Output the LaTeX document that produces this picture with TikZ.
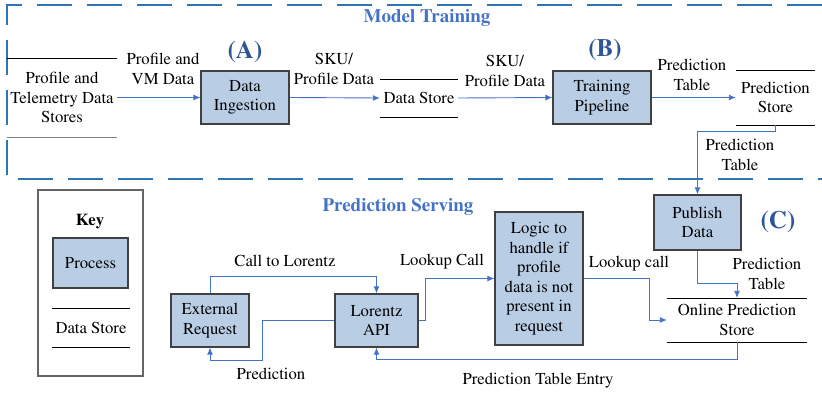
\documentclass[tikz,border=0pt]{standalone}
\usepackage[T1]{fontenc}
\usepackage{times}
\usetikzlibrary{arrows.meta,calc}
\definecolor{procfill}{HTML}{B9CDE5}
\definecolor{procline}{HTML}{404040}
\definecolor{flowblue}{HTML}{4472C4}
\definecolor{dashblue}{HTML}{2E75B6}
\definecolor{tagblue}{HTML}{2F5597}
\tikzset{proc/.style={draw=procline, fill=procfill, line width=1.2pt, align=center, inner sep=0pt}}
\tikzset{store/.style={align=center, inner sep=0pt}}
\tikzset{flow/.style={draw=flowblue, line width=0.9pt, -{Latex[length=7pt,width=6pt]}}}
\tikzset{lbl/.style={align=center, inner sep=0pt}}
\tikzset{tag/.style={text=tagblue, font=\fontsize{25}{28}\selectfont\bfseries, inner sep=0pt}}
\tikzset{sectitle/.style={text=flowblue, font=\fontsize{19}{22}\selectfont\bfseries, inner sep=0pt}}

\begin{document}
\begin{tikzpicture}[x=1pt, y=-1pt, font=\fontsize{16.7}{19.5}\selectfont]
\useasboundingbox (0,0) rectangle (822,393);
\draw[dashblue, line width=2pt, dash pattern=on 35pt off 15pt] (822,5) -- (7,5) -- (7,179) -- (822,179);
\node (mtitle) at (427,18) [sectitle] {Model Training};
\node (stitle) at (398,207) [sectitle] {Prediction Serving};

\node (src) at (62,97.5) [store, minimum width=110pt, minimum height=79pt] {Profile and\\Telemetry Data\\Stores};
\draw (src.north west) -- (src.north east);
\draw[gray] (src.south west) -- (src.south east);
\node (ing) at (245,97.5) [proc, minimum width=88pt, minimum height=53pt] {Data\\Ingestion};
\node (ds) at (419,98) [store, minimum width=78pt, minimum height=38pt] {Data Store};
\draw (ds.north west) -- (ds.north east) (ds.south west) -- (ds.south east);
\node (train) at (602,97.5) [proc, minimum width=98pt, minimum height=53pt] {Training\\Pipeline};
\node (pstore) at (775.5,97.5) [store, minimum width=79pt, minimum height=55pt] {Prediction\\Store};
\draw (pstore.north west) -- (pstore.north east) (pstore.south west) -- (pstore.south east);
\node (tagA) at (245,52) [tag] {(A)};
\node (tagB) at (605,50) [tag] {(B)};

\node (keybox) at (90.5,283) [draw=procline!80, line width=1.2pt, minimum width=105pt, minimum height=186pt] {};
\node (keyttl) at (90,221) [font=\fontsize{16.7}{19.5}\selectfont\bfseries] {Key};
\node (keyproc) at (90.5,263) [proc, minimum width=75pt, minimum height=50pt] {Process};
\node (keystore) at (91,327.5) [store, minimum width=78pt, minimum height=39pt] {Data Store};
\draw (keystore.north west) -- (keystore.north east) (keystore.south west) -- (keystore.south east);

\node (pub) at (697.5,222.5) [proc, minimum width=87pt, minimum height=55pt] {Publish\\Data};
\node (tagC) at (778,222) [tag] {(C)};
\node (ext) at (210,320.5) [proc, minimum width=78pt, minimum height=53pt] {External\\Request};
\node (api) at (376.5,320.5) [proc, minimum width=83pt, minimum height=53pt] {Lorentz\\API};
\node (logic) at (539,278.5) [proc, minimum width=88pt, minimum height=133pt] {Logic to\\handle if\\profile\\data is not\\present in\\request};
\node (ops) at (737,320) [store, minimum width=140pt, minimum height=44pt] {Online Prediction\\Store};
\draw (ops.north west) -- (ops.north east) (ops.south west) -- (ops.south east);

\node (l1) at (163,69) [lbl] {Profile and\\VM Data};
\node (l2) at (334,69) [lbl] {SKU/\\Profile Data};
\node (l3) at (505,71) [lbl] {SKU/\\Profile Data};
\node (l4) at (692,75) [lbl] {Prediction\\Table};
\node (l5) at (740,155) [lbl] {Prediction\\Table};
\node (l6) at (285,261) [lbl] {Call to Lorentz};
\node (l7) at (271,374) [lbl] {Prediction};
\node (l8) at (442,262) [lbl] {Lookup Call};
\node (l9) at (629,264) [lbl] {Lookup call};
\node (l10) at (767,274) [lbl] {Prediction\\Table};
\node (l11) at (538,381) [lbl] {Prediction Table Entry};

\draw[flow] (src.east) -- (ing.west);
\draw[flow] (ing.east) -- (ds.west);
\draw[flow] (ds.east) -- (train.west);
\draw[flow] (train.east) -- (pstore.west);
\draw[flow] (pstore.south) -- ++(0,6) -| (pub.north);
\draw[flow] (ext.north) -- ++(0,-17) -| (api.north);
\draw[flow] (api.west) -- (262,320.5) -- (262,360) -| (ext.south);
\draw[flow] (api.east) -- ++(7,0) |- (logic.west);
\draw[flow] (logic.east) -- ++(66,0) |- (ops.west);
\draw[flow] (pub.south) -- ++(0,33) -| (ops.north);
\draw[flow] (ops.south) -- ++(0,17) -| (api.south);
\end{tikzpicture}
\end{document}
